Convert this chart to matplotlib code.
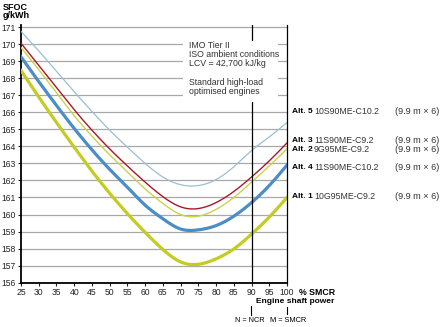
import matplotlib
matplotlib.use("Agg")
import matplotlib.pyplot as plt
from matplotlib.patches import Rectangle
import numpy as np

plt.rcParams['font.family'] = ['Liberation Sans', 'DejaVu Sans']

load = [25, 30, 35, 40, 45, 50, 55, 60, 65, 70, 75, 80, 85, 90, 95, 100]
alt1 = [168.45, 166.9, 165.4, 163.95, 162.55, 161.25, 160.05, 158.95, 157.95, 157.22, 157.08, 157.4, 157.98, 158.85, 159.85, 161.0]
alt4 = [169.25, 167.8, 166.4, 165.05, 163.8, 162.65, 161.6, 160.55, 159.75, 159.15, 159.1, 159.35, 159.9, 160.7, 161.7, 162.9]
alt2 = [169.8, 168.5, 167.15, 165.8, 164.6, 163.5, 162.5, 161.5, 160.65, 160.0, 159.9, 160.3, 161.0, 161.9, 162.85, 163.85]
alt3 = [170.05, 168.75, 167.45, 166.15, 164.95, 163.85, 162.85, 161.9, 161.05, 160.45, 160.35, 160.7, 161.35, 162.2, 163.15, 164.2]
alt5 = [170.75, 169.6, 168.4, 167.2, 166.05, 164.95, 163.95, 163.0, 162.2, 161.75, 161.7, 162.05, 162.8, 163.75, 164.55, 165.4]

yticks = list(range(156, 172))
xticks = list(range(25, 101, 5))

alt_names = ["Alt. 5", "Alt. 3", "Alt. 2", "Alt. 4", "Alt. 1"]
engines = ["10S90ME-C10.2", "11S90ME-C9.2", "9G95ME-C9.2", "11S90ME-C10.2", "10G95ME-C9.2"]
label_y = [166.06, 164.37, 163.84, 162.73, 161.03]
box_lines = ["IMO Tier II", "ISO ambient conditions", "LCV = 42,700 kJ/kg", "", "Standard high-load", "optimised engines"]


def smooth(xs, ys, n=300):
    """Natural cubic spline drawn through the read points (for rendering only)."""
    x = np.asarray(xs, float)
    y = np.asarray(ys, float)
    m = len(x)
    h = np.diff(x)
    A = np.zeros((m, m))
    b = np.zeros(m)
    A[0, 0] = A[-1, -1] = 1
    for i in range(1, m - 1):
        A[i, i - 1] = h[i - 1]
        A[i, i] = 2 * (h[i - 1] + h[i])
        A[i, i + 1] = h[i]
        b[i] = 6 * ((y[i + 1] - y[i]) / h[i] - (y[i] - y[i - 1]) / h[i - 1])
    M = np.linalg.solve(A, b)
    xx = np.linspace(x[0], x[-1], n)
    idx = np.clip(np.searchsorted(x, xx) - 1, 0, m - 2)
    x0, x1 = x[idx], x[idx + 1]
    hh = x1 - x0
    t0, t1 = x1 - xx, xx - x0
    yy = (M[idx] * t0 ** 3 + M[idx + 1] * t1 ** 3) / (6 * hh) + \
         (y[idx] / hh - M[idx] * hh / 6) * t0 + (y[idx + 1] / hh - M[idx + 1] * hh / 6) * t1
    return xx, yy


W, H = 447, 327
fig = plt.figure(figsize=(W / 100, H / 100), dpi=100)
ax = fig.add_axes([21 / W, 1 - 282.7 / H, (287 - 21) / W, (282.7 - 25) / H])
ax.set_xlim(25, 100)
ax.set_ylim(156, 171.12)

for y in yticks[1:]:
    ax.axhline(y, color='#a8a8a8', lw=0.9, zorder=1)

ax.plot(*smooth(load, alt5), color='#9dbdd6', lw=0.9, zorder=3)
ax.plot(*smooth(load, alt2), color='#cfd04a', lw=1.0, zorder=3)
ax.plot(*smooth(load, alt3), color='#a8182a', lw=1.0, zorder=4)
ax.plot(*smooth(load, alt4), color='#4b8ec6', lw=2.3, zorder=4)
ax.plot(*smooth(load, alt1), color='#c3cc22', lw=2.3, zorder=4)

ax.axvline(90, color='black', lw=0.9, zorder=5)
ax.add_patch(Rectangle((70.8, 166.6), 26.8, 3.6, facecolor='white', edgecolor='none', zorder=6))

ax.spines['top'].set_visible(False)
ax.spines['left'].set_linewidth(1.3)
ax.spines['bottom'].set_linewidth(1.3)
ax.spines['right'].set_linewidth(0.9)
ax.spines['right'].set_zorder(7)

ax.set_yticks(yticks)
ax.set_yticklabels([str(v) for v in yticks])
ax.set_xticks(xticks)
ax.set_xticklabels([str(v) for v in xticks])
ax.tick_params(axis='both', labelsize=6.2, colors='#222222', length=2.0, width=0.8, pad=2)
ax.tick_params(axis='y', pad=1.5)

bx = 189 / W
for i, t in enumerate(box_lines):
    fig.text(bx, 1 - (45 + i * 9.3) / H, t, fontsize=6.3, color='#333333', va='center', ha='left', zorder=10)

fig.text(3 / W, 1 - 7 / H, "SFOC", fontsize=6.5, fontweight='bold', va='center', ha='left')
fig.text(3 / W, 1 - 16 / H, "g/kWh", fontsize=6.5, fontweight='bold', va='center', ha='left')

fig.text(299 / W, 1 - 292.3 / H, "% SMCR", fontsize=6.3, fontweight='bold', va='center', ha='left')
fig.text(256 / W, 1 - 301.5 / H, "Engine shaft power", fontsize=6.0, fontweight='bold', va='center', ha='left')
fig.add_artist(plt.Line2D([251 / W, 251 / W], [1 - 305.5 / H, 1 - 315 / H], color='black', lw=0.8))
fig.add_artist(plt.Line2D([287 / W, 287 / W], [1 - 306.5 / H, 1 - 314 / H], color='black', lw=0.8))
fig.text(250 / W, 1 - 321 / H, "N = NCR", fontsize=5.3, va='center', ha='center')
fig.text(288 / W, 1 - 321 / H, "M = SMCR", fontsize=5.3, va='center', ha='center')

for name, eng, y in zip(alt_names, engines, label_y):
    yp = ax.transData.transform((100, y))[1] / H
    fig.text(291.5 / W, yp, name, fontsize=6.0, fontweight='bold', va='center', ha='left')
    fig.text(314 / W, yp, eng, fontsize=6.3, color='#333333', va='center', ha='left')
    fig.text(395 / W, yp, "(9.9 m \u00d7 6)", fontsize=6.6, color='#333333', va='center', ha='left')

fig.savefig("out.png", dpi=100)
